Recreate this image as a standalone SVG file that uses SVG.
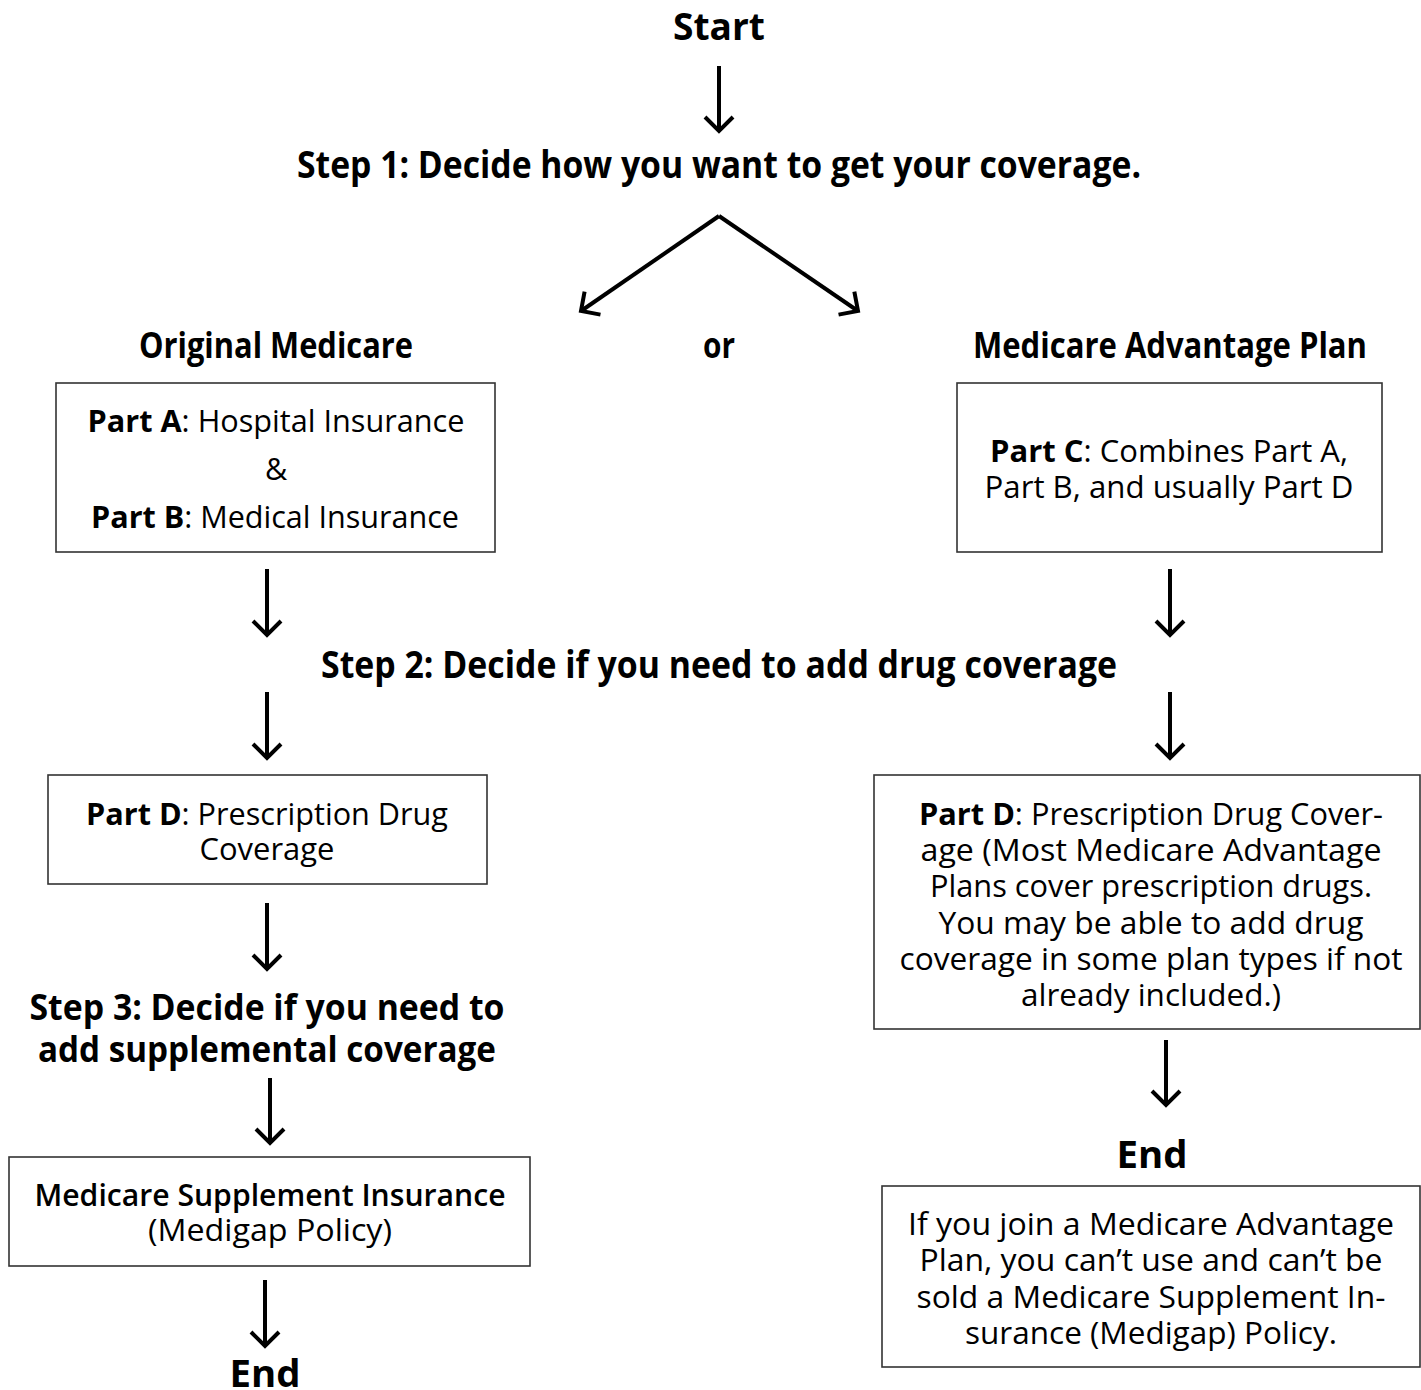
<svg xmlns="http://www.w3.org/2000/svg" width="1421" height="1390" viewBox="0 0 1421 1390">
<defs>
<style>
.title{font-family:"Open Sans","Noto Sans","DejaVu Sans",sans-serif;font-weight:700;fill:#000;text-anchor:middle}
.body{font-family:"Open Sans","Noto Sans","DejaVu Sans",sans-serif;font-weight:400;font-size:30.5px;fill:#000;text-anchor:middle}
.b{font-weight:700}
.box{fill:#fff;stroke:#333;stroke-width:1.6}
.conn{stroke:#000;stroke-width:4;fill:none;marker-end:url(#head)}
</style>
<marker id="head" markerUnits="userSpaceOnUse" markerWidth="40" markerHeight="40" viewBox="-20 -20 40 40" refX="0" refY="0" orient="auto" overflow="visible">
<path d="M-14,-14 L0,0 L-14,14" fill="none" stroke="#000" stroke-width="4" stroke-linejoin="miter"/>
</marker>
</defs>
<rect width="1421" height="1390" fill="#fff"/>

<g id="connectors">
<line class="conn" x1="719" y1="66" x2="719" y2="131"/>
<path class="conn" d="M719,216 L581,311"/>
<path class="conn" d="M719,216 L858,311"/>
<line class="conn" x1="267" y1="569" x2="267" y2="635"/>
<line class="conn" x1="1170" y1="569" x2="1170" y2="635"/>
<line class="conn" x1="267" y1="692" x2="267" y2="758"/>
<line class="conn" x1="1170" y1="692" x2="1170" y2="758"/>
<line class="conn" x1="267" y1="903" x2="267" y2="969"/>
<line class="conn" x1="270" y1="1078" x2="270" y2="1143"/>
<line class="conn" x1="265" y1="1280" x2="265" y2="1346"/>
<line class="conn" x1="1166" y1="1040" x2="1166" y2="1105"/>
</g>

<g id="start"><text class="title" x="719" y="40" font-size="37" textLength="92" lengthAdjust="spacingAndGlyphs">Start</text></g>
<g id="step1"><text class="title" x="719" y="178" font-size="37" textLength="844" lengthAdjust="spacingAndGlyphs">Step 1: Decide how you want to get your coverage.</text></g>
<g id="original-medicare"><text class="title" x="276" y="358" font-size="35" textLength="274" lengthAdjust="spacingAndGlyphs">Original Medicare</text></g>
<g id="or"><text class="title" x="719" y="358" font-size="35" textLength="32" lengthAdjust="spacingAndGlyphs">or</text></g>
<g id="medicare-advantage"><text class="title" x="1170" y="358" font-size="35" textLength="394" lengthAdjust="spacingAndGlyphs">Medicare Advantage Plan</text></g>

<g id="box-ab">
<rect class="box" x="56" y="383" width="439" height="169"/>
<text class="body" x="276" y="432" textLength="377" lengthAdjust="spacingAndGlyphs"><tspan class="b">Part A</tspan>: Hospital Insurance</text>
<text class="body" x="276" y="480">&amp;</text>
<text class="body" x="275" y="528" textLength="368" lengthAdjust="spacingAndGlyphs"><tspan class="b">Part B</tspan>: Medical Insurance</text>
</g>

<g id="box-c">
<rect class="box" x="957" y="383" width="425" height="169"/>
<text class="body" x="1169" y="462" textLength="358" lengthAdjust="spacingAndGlyphs"><tspan class="b">Part C</tspan>: Combines Part A,</text>
<text class="body" x="1169" y="498" textLength="369" lengthAdjust="spacingAndGlyphs">Part B, and usually Part D</text>
</g>

<g id="step2"><text class="title" x="719" y="678" font-size="37" textLength="796" lengthAdjust="spacingAndGlyphs">Step 2: Decide if you need to add drug coverage</text></g>

<g id="box-d-left">
<rect class="box" x="48" y="775" width="439" height="109"/>
<text class="body" x="267" y="825" textLength="362" lengthAdjust="spacingAndGlyphs"><tspan class="b">Part D</tspan>: Prescription Drug</text>
<text class="body" x="267" y="860" textLength="135" lengthAdjust="spacingAndGlyphs">Coverage</text>
</g>

<g id="box-d-right">
<rect class="box" x="874" y="775" width="546" height="254"/>
<text class="body" x="1151" y="825" textLength="464" lengthAdjust="spacingAndGlyphs"><tspan class="b">Part D</tspan>: Prescription Drug Cover-</text>
<text class="body" x="1151" y="861" textLength="461" lengthAdjust="spacingAndGlyphs">age (Most Medicare Advantage</text>
<text class="body" x="1151" y="897" textLength="442" lengthAdjust="spacingAndGlyphs">Plans cover prescription drugs.</text>
<text class="body" x="1151" y="934" textLength="425" lengthAdjust="spacingAndGlyphs">You may be able to add drug</text>
<text class="body" x="1151" y="970" textLength="503" lengthAdjust="spacingAndGlyphs">coverage in some plan types if not</text>
<text class="body" x="1151" y="1006" textLength="260" lengthAdjust="spacingAndGlyphs">already included.)</text>
</g>

<g id="step3">
<text class="title" x="267" y="1020" font-size="36" textLength="475" lengthAdjust="spacingAndGlyphs">Step 3: Decide if you need to</text>
<text class="title" x="267" y="1062" font-size="36" textLength="458" lengthAdjust="spacingAndGlyphs">add supplemental coverage</text>
</g>

<g id="box-medigap">
<rect class="box" x="9" y="1157" width="521" height="109"/>
<text class="body" x="270" y="1206" style="font-weight:600" textLength="471" lengthAdjust="spacingAndGlyphs">Medicare Supplement Insurance</text>
<text class="body" x="270" y="1241" textLength="244" lengthAdjust="spacingAndGlyphs">(Medigap Policy)</text>
</g>

<g id="end-left"><text class="title" x="265" y="1387" font-size="37" textLength="71" lengthAdjust="spacingAndGlyphs">End</text></g>
<g id="end-right"><text class="title" x="1152" y="1168" font-size="37" textLength="71" lengthAdjust="spacingAndGlyphs">End</text></g>

<g id="box-note">
<rect class="box" x="882" y="1186" width="538" height="181"/>
<text class="body" x="1151" y="1235" textLength="486" lengthAdjust="spacingAndGlyphs">If you join a Medicare Advantage</text>
<text class="body" x="1151" y="1271" textLength="463" lengthAdjust="spacingAndGlyphs">Plan, you can’t use and can’t be</text>
<text class="body" x="1151" y="1308" textLength="469" lengthAdjust="spacingAndGlyphs">sold a Medicare Supplement In-</text>
<text class="body" x="1151" y="1344" textLength="372" lengthAdjust="spacingAndGlyphs">surance (Medigap) Policy.</text>
</g>
</svg>
